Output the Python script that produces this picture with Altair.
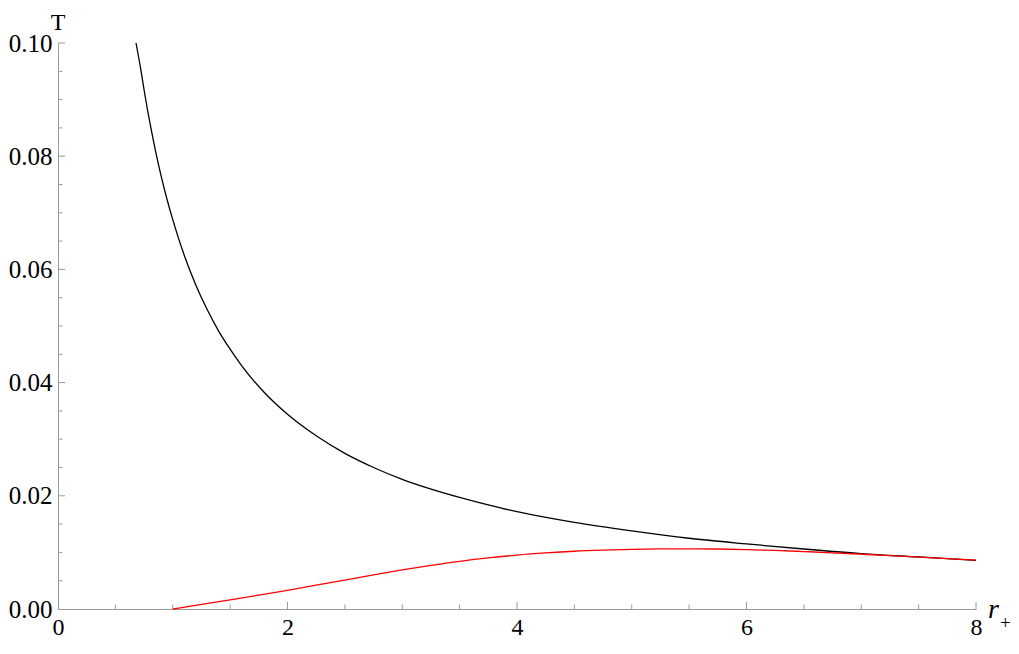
import altair as alt
import pandas as pd

# --- data ---
black_r = [0.68, 0.72, 0.76, 0.80, 0.85, 0.90, 0.95, 1.00, 1.10, 1.20, 1.30, 1.40,
           1.50, 1.60, 1.80, 2.00, 2.25, 2.50, 2.75, 3.00, 3.50, 4.00, 4.50, 5.00,
           5.50, 6.00, 6.50, 7.00, 7.50, 8.00]
black_T = [0.1000, 0.0955, 0.0905, 0.0860, 0.0809, 0.0764, 0.0724, 0.0688, 0.0625,
           0.0573, 0.0529, 0.0491, 0.0459, 0.0430, 0.0382, 0.0344, 0.0306, 0.0275,
           0.0250, 0.0229, 0.0197, 0.0172, 0.0153, 0.0138, 0.0125, 0.0115, 0.0106,
           0.0098, 0.0092, 0.0086]

red_r = [1.00, 1.25, 1.50, 1.75, 2.00, 2.25, 2.50, 2.75, 3.00, 3.25, 3.50, 3.75,
         4.00, 4.25, 4.50, 4.75, 5.00, 5.25, 5.50, 5.75, 6.00, 6.25, 6.50, 6.75,
         7.00, 7.25, 7.50, 7.75, 8.00]
red_T = [0.00000, 0.00080, 0.00162, 0.00245, 0.00330, 0.00420, 0.00512, 0.00603,
         0.00690, 0.00770, 0.00842, 0.00903, 0.00952, 0.00990, 0.01020, 0.01040,
         0.01054, 0.01062, 0.01064, 0.01060, 0.01050, 0.01035, 0.01015, 0.00993,
         0.00968, 0.00942, 0.00916, 0.00889, 0.00862]

x_labels = [0, 2, 4, 6, 8]
y_labels = [0.00, 0.02, 0.04, 0.06, 0.08, 0.10]
x_major = [2, 4, 6, 8]
x_minor = [0.5, 1.0, 1.5, 2.5, 3.0, 3.5, 4.5, 5.0, 5.5, 6.5, 7.0, 7.5]
y_major = [0.02, 0.04, 0.06, 0.08, 0.10]
y_minor = [0.005, 0.010, 0.015, 0.025, 0.030, 0.035, 0.045, 0.050, 0.055,
           0.065, 0.070, 0.075, 0.085, 0.090, 0.095]

W, H = 918, 566
FONT = "Liberation Serif"
AX = "#9a9a9a"

xs = alt.Scale(domain=[0, 8], nice=False, zero=False)
ys = alt.Scale(domain=[0, 0.1], nice=False, zero=False)

x_axis = alt.Axis(
    values=x_labels, format="d", title=None, ticks=False, grid=False,
    domainColor=AX, domainWidth=1, labelFont=FONT, labelFontSize=24,
    labelColor="black", labelPadding=6, labelFlush=False, labelOverlap=False)
y_axis = alt.Axis(
    values=y_labels, format=".2f", title=None, ticks=False, grid=False,
    domainColor=AX, domainWidth=1, labelFont=FONT, labelFontSize=25,
    labelColor="black", labelPadding=6, labelFlush=False, labelOverlap=False)

curves = pd.DataFrame(
    {"r": black_r + red_r,
     "T": black_T + red_T,
     "s": ["black"] * len(black_r) + ["red"] * len(red_r)}
)

lines = alt.Chart(curves).mark_line(strokeWidth=1.3, interpolate="monotone").encode(
    x=alt.X("r:Q", scale=xs, axis=x_axis),
    y=alt.Y("T:Q", scale=ys, axis=y_axis),
    color=alt.Color("s:N", scale=alt.Scale(domain=["black", "red"], range=["#000000", "#ff0000"]), legend=None),
    order=alt.Order("r:Q"),
)

def xticks(vals, length):
    return alt.Chart(pd.DataFrame({"v": vals})).mark_rule(color=AX, strokeWidth=1).encode(
        x=alt.X("v:Q", scale=xs, axis=x_axis),
        y=alt.value(H), y2=alt.value(H - length))

def yticks(vals, length):
    return alt.Chart(pd.DataFrame({"v": vals})).mark_rule(color=AX, strokeWidth=1).encode(
        y=alt.Y("v:Q", scale=ys, axis=y_axis),
        x=alt.value(0), x2=alt.value(length))

one = pd.DataFrame({"a": [0]})
t_label = alt.Chart(one).mark_text(text="T", font=FONT, fontSize=24, align="center",
                                   baseline="alphabetic", dy=-13, color="black").encode(
    x=alt.datum(0, scale=xs), y=alt.datum(0.1, scale=ys))
r_label = alt.Chart(one).mark_text(text="r", font=FONT, fontSize=28, fontStyle="italic",
                                   align="left", baseline="alphabetic", dx=12, dy=9,
                                   color="black").encode(
    x=alt.datum(8, scale=xs), y=alt.datum(0, scale=ys))
plus_label = alt.Chart(one).mark_text(text="+", font=FONT, fontSize=19,
                                      align="left", baseline="alphabetic", dx=24, dy=20,
                                      color="black").encode(
    x=alt.datum(8, scale=xs), y=alt.datum(0, scale=ys))

chart = alt.layer(
    lines,
    xticks(x_major, 7), xticks(x_minor, 4.5),
    yticks(y_major, 7), yticks(y_minor, 4.5),
    t_label, r_label, plus_label,
).properties(
    width=W, height=H,
    autosize=alt.AutoSizeParams(type="none"),
    padding={"left": 50, "top": 35, "right": 35, "bottom": 31},
).configure_view(stroke=None)

chart.save("out.html", embed_options={"renderer": "svg", "actions": False})
